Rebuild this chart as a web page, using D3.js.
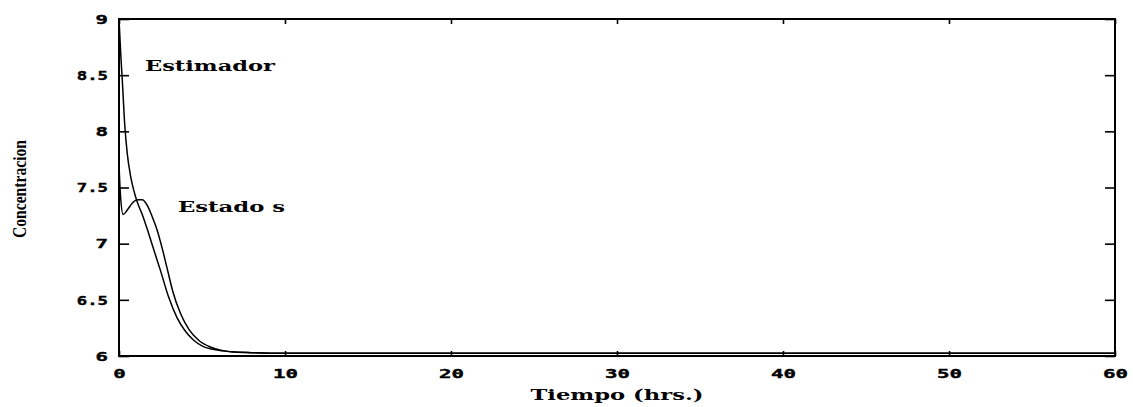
<!DOCTYPE html>
<head>
  <style>
    body { margin: 0; background: #fff; }
    text { font-family: "DejaVu Sans Mono", monospace; font-weight: bold; fill: #000; }
  </style>
</head>
<title>Concentracion vs Tiempo</title>
<body>
<script src="https://cdn.jsdelivr.net/npm/d3@7"></script>
<script>

// time (hrs) and concentration
var estT = [0, 0.1, 0.2, 0.35, 0.5, 0.7, 0.9, 1.1, 1.4, 1.7, 2.0, 2.5, 3.0, 3.5, 4.0, 4.5, 5.0, 6.0, 7.0, 8.0, 10, 60];
var estV = [9.0, 8.7, 8.45, 8.05, 7.8, 7.6, 7.47, 7.37, 7.26, 7.13, 6.99, 6.76, 6.52, 6.34, 6.22, 6.14, 6.09, 6.05, 6.035, 6.03, 6.025, 6.025];

var staT = [0, 0.08, 0.25, 0.5, 0.8, 1.1, 1.4, 1.7, 2.0, 2.3, 2.6, 2.9, 3.25, 3.7, 4.2, 4.8, 5.5, 6.2, 7.0, 8.0, 10, 60];
var staV = [7.7, 7.45, 7.26, 7.3, 7.36, 7.39, 7.39, 7.34, 7.24, 7.12, 6.96, 6.78, 6.57, 6.38, 6.24, 6.14, 6.08, 6.05, 6.035, 6.03, 6.025, 6.025];

var xTicks = [0, 10, 20, 30, 40, 50, 60];
var yTicks = [6, 6.5, 7, 7.5, 8, 8.5, 9];

var W = 1133, H = 407;
var m = {t: 19, r: 18, b: 51, l: 119};
var w = W - m.l - m.r;
var h = H - m.t - m.b;

var x = d3.scaleLinear().domain([0, 60]).range([0, w]);
var y = d3.scaleLinear().domain([6, 9]).range([h, 0]);

var svg = d3.select("body").append("svg")
    .attr("width", W).attr("height", H)
  .append("g")
    .attr("transform", "translate(" + m.l + "," + m.t + ")");

// stretch labels so they look like the wide plotter font
function widen(sel, per) {
  sel.attr("textLength", function() {
      var s = d3.select(this).text();
      var n = s.replace(/\./g, "").length, d = s.length - n;
      return n * per + d * per * 0.5;
    })
    .attr("lengthAdjust", "spacingAndGlyphs");
}

var fmt = function(d) { return d3.format("")(d); };

var gx = svg.append("g").attr("transform", "translate(0," + h + ")")
    .call(d3.axisBottom(x).tickValues(xTicks).tickSize(-5).tickPadding(13).tickFormat(fmt));
var gy = svg.append("g")
    .call(d3.axisLeft(y).tickValues(yTicks).tickSize(-10).tickPadding(11).tickFormat(fmt));
svg.append("g")
    .call(d3.axisTop(x).tickValues(xTicks).tickSize(-5).tickFormat(""));
svg.append("g").attr("transform", "translate(" + w + ",0)")
    .call(d3.axisRight(y).tickValues(yTicks).tickSize(-10).tickFormat(""));

svg.selectAll(".domain").remove();
svg.selectAll(".tick line").attr("stroke", "#000").attr("stroke-width", 1.6);
[gx, gy].forEach(function(g) {
  g.selectAll("text").style("font-size", "13px").style("font-family", "DejaVu Sans Mono")
    .style("font-weight", "bold").attr("stroke", "#000").attr("stroke-width", 0.4);
  widen(g.selectAll("text"), 12.5);
});

svg.append("rect")
    .attr("x", 0).attr("y", 0).attr("width", w).attr("height", h)
    .attr("fill", "none").attr("stroke", "#000").attr("stroke-width", 2);

var line = d3.line().curve(d3.curveMonotoneX)
    .x(function(d) { return x(d[0]); })
    .y(function(d) { return y(d[1]); });

svg.append("path")
    .datum(d3.zip(estT, estV))
    .attr("d", line)
    .attr("fill", "none").attr("stroke", "#000").attr("stroke-width", 1.5);

svg.append("path")
    .datum(d3.zip(staT, staV))
    .attr("d", line)
    .attr("fill", "none").attr("stroke", "#000").attr("stroke-width", 1.5);

// curve labels
svg.append("text").attr("x", 145 - m.l).attr("y", 71 - m.t)
    .style("font-family", "DejaVu Serif").style("font-size", "14px").text("Estimador")
    .attr("textLength", 130).attr("lengthAdjust", "spacingAndGlyphs");
svg.append("text").attr("x", 178 - m.l).attr("y", 212 - m.t)
    .style("font-family", "DejaVu Serif").style("font-size", "14px").text("Estado s")
    .attr("textLength", 107).attr("lengthAdjust", "spacingAndGlyphs");

// axis titles
svg.append("text").attr("x", w / 2).attr("y", h + 44)
    .style("font-family", "DejaVu Serif").style("font-size", "14px")
    .style("text-anchor", "middle").text("Tiempo (hrs.)")
    .attr("textLength", 173).attr("lengthAdjust", "spacingAndGlyphs");

svg.append("text")
    .attr("transform", "translate(" + (26 - m.l) + "," + (189 - m.t) + ") rotate(-90)")
    .style("font-family", "Liberation Serif").style("font-size", "18px")
    .style("text-anchor", "middle").text("Concentracion")
    .attr("textLength", 98).attr("lengthAdjust", "spacingAndGlyphs");

</script>
</body>
